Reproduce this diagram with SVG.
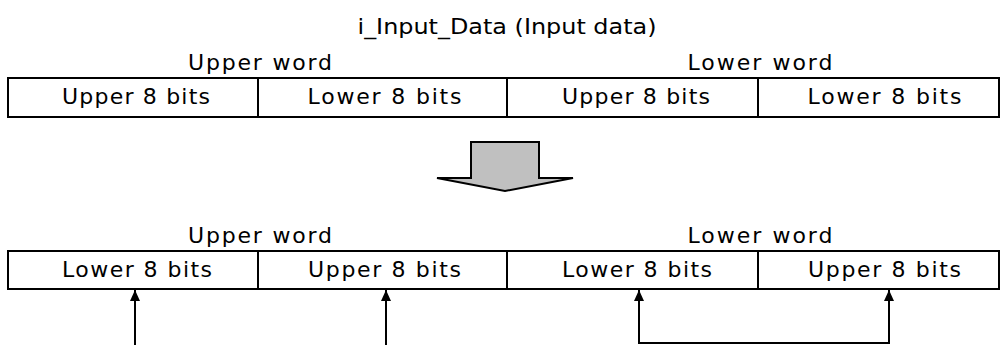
<svg xmlns="http://www.w3.org/2000/svg" width="1001" height="345" viewBox="0 0 1001 345">
  <style>
    .lbl { font-family: "DejaVu Sans", "Noto Sans CJK JP", sans-serif; font-size: 22px; fill: #000; text-anchor: middle; }
    .cell { fill: #fff; stroke: #000; stroke-width: 2; }
    .div { stroke: #000; stroke-width: 2; }
    .conn { fill: none; stroke: #000; stroke-width: 2; }
  </style>
  <defs>
    <marker id="head" viewBox="0 0 11 10" refX="11" refY="5" markerWidth="11" markerHeight="10" markerUnits="userSpaceOnUse" orient="auto-start-reverse">
      <path d="M0,0 L11,5 L0,10 Z" fill="#000"/>
    </marker>
  </defs>

  <text class="lbl" x="507" y="34" textLength="299" lengthAdjust="spacingAndGlyphs">i_Input_Data (Input data)</text>

  <!-- input word pair -->
  <g id="input-row">
    <text class="lbl" x="260" y="70" textLength="144" lengthAdjust="spacing">Upper word</text>
    <text class="lbl" x="760" y="70" textLength="145" lengthAdjust="spacing">Lower word</text>
    <rect class="cell" x="8" y="78" width="991" height="39"/>
    <line class="div" x1="258" y1="78" x2="258" y2="118"/>
    <line class="div" x1="507" y1="78" x2="507" y2="118"/>
    <line class="div" x1="758" y1="78" x2="758" y2="118"/>
    <text class="lbl" x="136" y="104" textLength="148" lengthAdjust="spacing">Upper 8 bits</text>
    <text class="lbl" x="384.5" y="104" textLength="154" lengthAdjust="spacing">Lower 8 bits</text>
    <text class="lbl" x="636" y="104" textLength="148" lengthAdjust="spacing">Upper 8 bits</text>
    <text class="lbl" x="884.5" y="104" textLength="154" lengthAdjust="spacing">Lower 8 bits</text>
  </g>

  <!-- block arrow -->
  <g id="swap-arrow">
    <polygon points="471,142 539,142 539,178 573,178 505,191 437,178 471,178" fill="#c0c0c0" stroke="#000" stroke-width="2" stroke-linejoin="miter"/>
  </g>

  <!-- output word pair -->
  <g id="output-row">
    <text class="lbl" x="260" y="243" textLength="144" lengthAdjust="spacing">Upper word</text>
    <text class="lbl" x="760" y="243" textLength="145" lengthAdjust="spacing">Lower word</text>
    <rect class="cell" x="8" y="251" width="991" height="38"/>
    <line class="div" x1="258" y1="251" x2="258" y2="290"/>
    <line class="div" x1="507" y1="251" x2="507" y2="290"/>
    <line class="div" x1="758" y1="251" x2="758" y2="290"/>
    <text class="lbl" x="137" y="277" textLength="150" lengthAdjust="spacing">Lower 8 bits</text>
    <text class="lbl" x="384.5" y="277" textLength="153" lengthAdjust="spacing">Upper 8 bits</text>
    <text class="lbl" x="637" y="277" textLength="150" lengthAdjust="spacing">Lower 8 bits</text>
    <text class="lbl" x="884.5" y="277" textLength="153" lengthAdjust="spacing">Upper 8 bits</text>
  </g>

  <!-- byte movement connectors -->
  <g id="connectors">
    <path class="conn" d="M135,345 V290" marker-end="url(#head)"/>
    <path class="conn" d="M386,345 V290" marker-end="url(#head)"/>
    <path class="conn" d="M639,290 V343 H889 V290" marker-start="url(#head)" marker-end="url(#head)"/>
  </g>
</svg>
